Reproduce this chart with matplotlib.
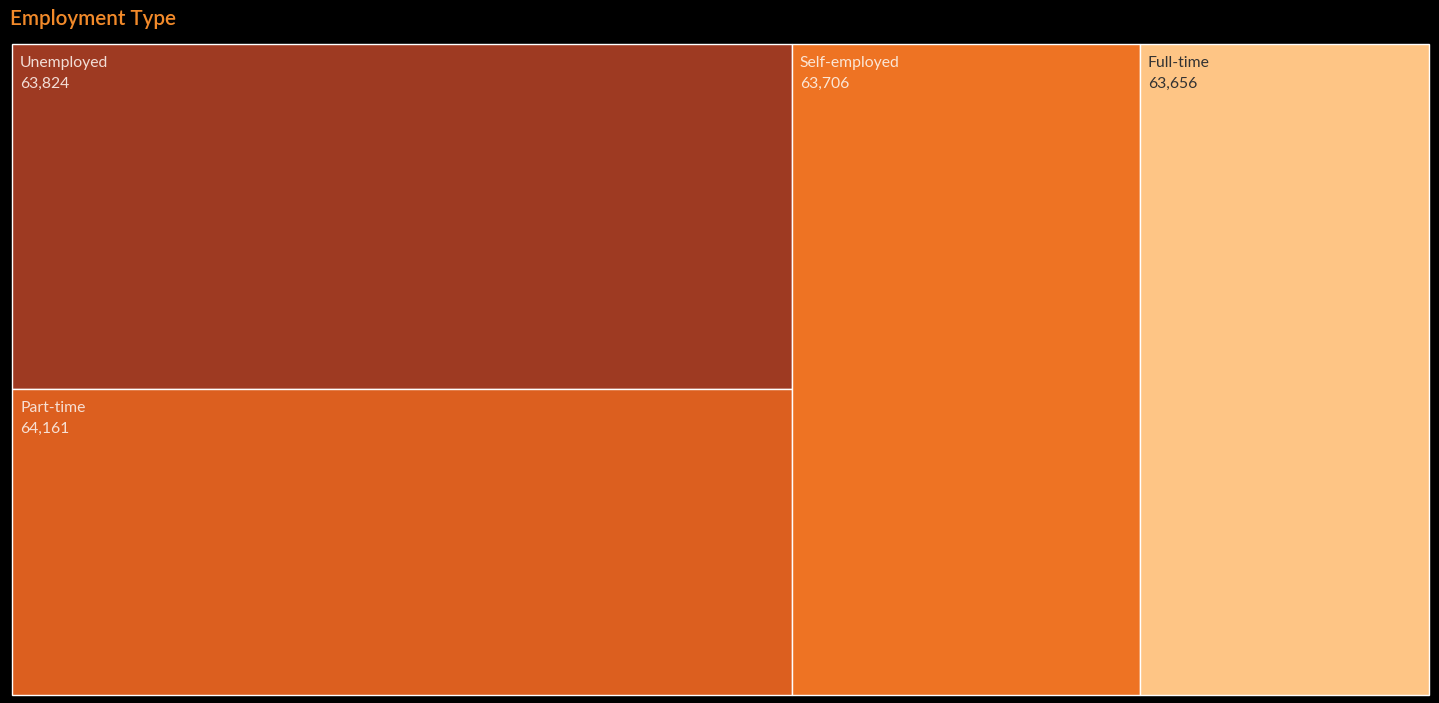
import matplotlib.pyplot as plt
from matplotlib.patches import Rectangle

# data
categories = ["Unemployed", "Part-time", "Self-employed", "Full-time"]
values = [63824, 64161, 63706, 63656]          # labels shown on tiles
size_share = [29.17, 25.87, 24.56, 20.40]      # tile area share (%)
columns = [[0, 1], [2], [3]]                   # tiles stacked per column
colors = ["#9E3A22", "#DC5F1F", "#EE7323", "#FEC585"]
text_colors = ["#F2DDD6", "#F7E0D4", "#FBE6D6", "#333333"]

W, H = 1439, 703
fig = plt.figure(figsize=(W / 100, H / 100), dpi=100, facecolor="black")
ax = fig.add_axes([0, 0, 1, 1])
ax.set_xlim(0, W)
ax.set_ylim(H, 0)
ax.axis("off")

fig.text(10 / W, 1 - 19 / H, "Employment Type", color="#F28A2A",
         fontsize=14.9, fontweight="semibold", family="Lato", va="center")

# treemap area
x0, y0, x1, y1 = 12, 44, 1429, 695
tw, th = x1 - x0, y1 - y0
total = sum(size_share)

x = x0
for col in columns:
    col_total = sum(size_share[i] for i in col)
    cw = tw * col_total / total
    y = y0
    for i in col:
        ch = th * size_share[i] / col_total
        ax.add_patch(Rectangle((x, y), cw, ch, facecolor=colors[i],
                               edgecolor="white", linewidth=1))
        ax.text(x + 8, y + 12, categories[i], color=text_colors[i],
                fontsize=11.3, family="Lato", va="top", ha="left")
        ax.text(x + 8, y + 33, f"{values[i]:,}", color=text_colors[i],
                fontsize=11.3, family="Lato", va="top", ha="left")
        y += ch
    x += cw

fig.savefig("out.png", dpi=100, facecolor="black")
